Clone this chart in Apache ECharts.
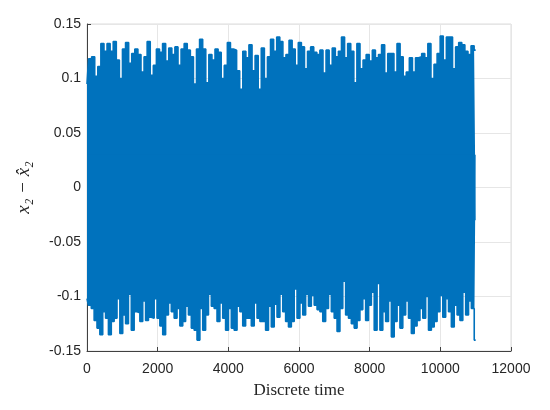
<!DOCTYPE html>
<html>
<head>
<meta charset="utf-8">
<script src="https://cdn.jsdelivr.net/npm/echarts@6/dist/echarts.min.js"></script>
<style>html,body{margin:0;padding:0;background:#fff}#c{width:550px;height:410px}</style>
</head>
<body>
<div id="c"></div>
<script>
// Upper envelope (peaks) of x2 - x2hat, read left to right over 0..11000
const upperPeaks = [
  0.095, 0.118, 0.120, 0.102, 0.111, 0.132, 0.125, 0.132, 0.125, 0.134, 0.117, 0.100, 0.127,
  0.133, 0.114, 0.123, 0.127, 0.122, 0.106, 0.120, 0.134, 0.103, 0.112, 0.127, 0.124, 0.132,
  0.116, 0.128, 0.122, 0.129, 0.112, 0.127, 0.132, 0.126, 0.120, 0.095, 0.127, 0.136, 0.127,
  0.096, 0.122, 0.117, 0.127, 0.124, 0.100, 0.112, 0.133, 0.127, 0.126, 0.107, 0.090, 0.125,
  0.119, 0.131, 0.107, 0.121, 0.090, 0.128, 0.100, 0.120, 0.136, 0.125, 0.138, 0.134, 0.119,
  0.122, 0.135, 0.127, 0.112, 0.133, 0.129, 0.109, 0.125, 0.129, 0.124, 0.122, 0.126, 0.105,
  0.126, 0.112, 0.128, 0.120,
  0.125, 0.138, 0.119, 0.132, 0.125, 0.096, 0.132, 0.109, 0.117, 0.122, 0.116, 0.126, 0.119,
  0.122, 0.131, 0.105, 0.123, 0.123, 0.106, 0.132, 0.120, 0.102, 0.106, 0.119, 0.106, 0.119,
  0.120, 0.123, 0.119, 0.132, 0.100, 0.113, 0.123, 0.139, 0.117, 0.138, 0.138, 0.109, 0.129,
  0.133, 0.131, 0.125, 0.122, 0.130, 0.126
];
// Lower envelope (troughs), read left to right over 0..11000
const lowerTroughs = [
  -0.102, -0.108, -0.111, -0.122, -0.129, -0.135, -0.114, -0.120, -0.135, -0.123, -0.120, -0.102,
  -0.134, -0.117, -0.125, -0.098, -0.131, -0.114, -0.115, -0.123, -0.104, -0.122, -0.119, -0.120,
  -0.102, -0.120, -0.127, -0.135, -0.117, -0.106, -0.114, -0.120, -0.111, -0.127, -0.123, -0.109,
  -0.117, -0.129, -0.131, -0.140, -0.111, -0.131, -0.117, -0.098, -0.109, -0.111, -0.123, -0.106,
  -0.120, -0.131, -0.111, -0.129, -0.131, -0.109, -0.114, -0.127, -0.120, -0.120, -0.127, -0.106,
  -0.120, -0.123, -0.123, -0.131, -0.109, -0.128, -0.107, -0.119, -0.098, -0.114, -0.123, -0.128,
  -0.123, -0.093, -0.120, -0.106, -0.117, -0.098, -0.109, -0.099, -0.108, -0.112, -0.114, -0.123,
  -0.111, -0.098, -0.114, -0.120, -0.132, -0.111, -0.086, -0.117, -0.120, -0.125,
  -0.129, -0.122, -0.112, -0.102, -0.122, -0.108, -0.096, -0.131, -0.088, -0.131, -0.114, -0.123,
  -0.104, -0.137, -0.123, -0.108, -0.129, -0.117, -0.104, -0.120, -0.134, -0.127, -0.122, -0.111,
  -0.120, -0.100, -0.131, -0.128, -0.123, -0.114, -0.099, -0.119, -0.102, -0.114, -0.128, -0.108,
  -0.117, -0.122, -0.096, -0.117, -0.104, -0.111, -0.140
];
const tStart = 0, tEnd = 11000;
const xTicks = [0, 2000, 4000, 6000, 8000, 10000, 12000];
const yTicks = [-0.15, -0.1, -0.05, 0, 0.05, 0.1, 0.15];

const toPts = arr => arr.map((v, i) => [tStart + i * (tEnd - tStart) / (arr.length - 1), v]);
const upperPts = toPts(upperPeaks);
const lowerPts = toPts(lowerTroughs);

const blue = '#0072BD';
const chart = echarts.init(document.getElementById('c'), null, {renderer: 'canvas'});
const tickFont = {fontFamily: 'Liberation Sans, Arial, sans-serif', fontSize: 14, color: '#262626'};
const band = (data, origin) => ({
  type: 'line', data: data, step: 'middle', showSymbol: false, symbol: 'none', sampling: null,
  lineStyle: {color: blue, width: 1.6}, areaStyle: {color: blue, opacity: 1, origin: origin},
  silent: true, z: 3
});
chart.setOption({
  animation: false,
  backgroundColor: '#ffffff',
  grid: {left: 87, right: 39, top: 24, bottom: 59, show: true, borderColor: '#dcdcdc', borderWidth: 1},
  xAxis: {
    type: 'value', min: xTicks[0], max: xTicks[xTicks.length - 1], interval: 2000,
    name: 'Discrete time', nameLocation: 'middle', nameGap: 31,
    nameTextStyle: {fontFamily: 'Liberation Serif, DejaVu Serif, serif', fontSize: 17, color: '#262626'},
    axisLine: {show: true, onZero: false, lineStyle: {color: '#404040', width: 1}},
    axisTick: {show: true, inside: true, length: 4, lineStyle: {color: '#404040'}},
    axisLabel: Object.assign({margin: 11, formatter: v => String(v)}, tickFont),
    splitLine: {show: true, lineStyle: {color: '#e6e6e6', width: 1}}
  },
  yAxis: {
    type: 'value', min: yTicks[0], max: yTicks[yTicks.length - 1], interval: 0.05,
    name: 'x₂ − x̂₂', nameLocation: 'middle', nameGap: 54, nameRotate: 90,
    nameTextStyle: {fontFamily: 'Liberation Serif, DejaVu Serif, serif', fontStyle: 'italic', fontSize: 19, color: '#262626'},
    axisLine: {show: true, onZero: false, lineStyle: {color: '#404040', width: 1}},
    axisTick: {show: true, inside: true, length: 4, lineStyle: {color: '#404040'}},
    axisLabel: Object.assign({margin: 6, formatter: v => String(+v.toFixed(2))}, tickFont),
    splitLine: {show: true, lineStyle: {color: '#e6e6e6', width: 1}}
  },
  series: [band(upperPts, -0.03), band(lowerPts, 0.03)]
});
</script>
</body>
</html>
